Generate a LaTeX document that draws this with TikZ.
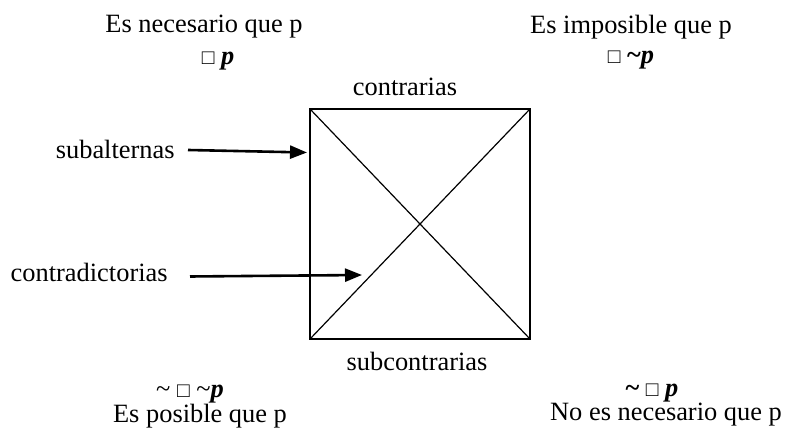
\documentclass[tikz,border=0pt]{standalone}
\usepackage{fontspec}
\setmainfont{Liberation Serif}
\usetikzlibrary{arrows.meta, positioning}
\newcommand{\bx}{{\fontsize{10.5}{10.5}\selectfont\char"25A1}}
\newcommand{\tld}{\textasciitilde}
\tikzset{
  lbl/.style     = {font=\fontsize{13.2}{15}\selectfont, inner sep=0pt},
  sqedge/.style  = {line width=0.75pt},
  diag/.style    = {line width=0.6pt},
  pointer/.style = {-{Triangle[length=8.5pt, width=6.5pt]}, line width=1.3pt},
}

\begin{document}
\begin{tikzpicture}[x=0.5pt, y=-0.5pt]
    \useasboundingbox (0,0) rectangle (786,437);
    % square of opposition
    \coordinate (nw) at (310,109);
    \coordinate (ne) at (530,109);
    \coordinate (se) at (530,339);
    \coordinate (sw) at (310,339);
    \draw[sqedge] (nw) -- (ne) -- (se) -- (sw) -- cycle;
    \draw[diag] (nw) -- (se);
    \draw[diag] (ne) -- (sw);

    % corners
    \node[lbl] (nec)    at (204,27)  {Es necesario que p};
    \node[lbl] (necf)   at (218,61)  {\bx\ \textbf{\textit{p}}};
    \node[lbl] (imp)    at (631,27)  {Es imposible que p};
    \node[lbl] (impf)   at (631,60)  {\bx\ \textbf{\tld\textit{p}}};
    \node[lbl] (posf)   at (190,394) {\tld\ \bx\ \tld\textbf{\textit{p}}};
    \node[lbl] (pos)    at (200,416) {Es posible que p};
    \node[lbl] (nonecf) at (652,393) {\textbf{\tld}\ \bx\ \textbf{\textit{p}}};
    \node[lbl] (nonec)  at (666,415) {No es necesario que p};

    % sides
    \node[lbl] (contr)    at (405,87)  {contrarias};
    \node[lbl] (subcontr) at (417,361) {subcontrarias};
    \node[lbl, anchor=east] (subalt)  at (175,149) {subalternas};
    \node[lbl, anchor=east] (contrad) at (168,272) {contradictorias};

    \coordinate (subaltTail)  at (188,150);
    \coordinate (subaltTip)   at (307,152.5);
    \coordinate (contradTail) at (190,276.5);
    \coordinate (contradTip)  at (362,275);
    \draw[pointer] (subaltTail) -- (subaltTip);
    \draw[pointer] (contradTail) -- (contradTip);
\end{tikzpicture}
\end{document}
